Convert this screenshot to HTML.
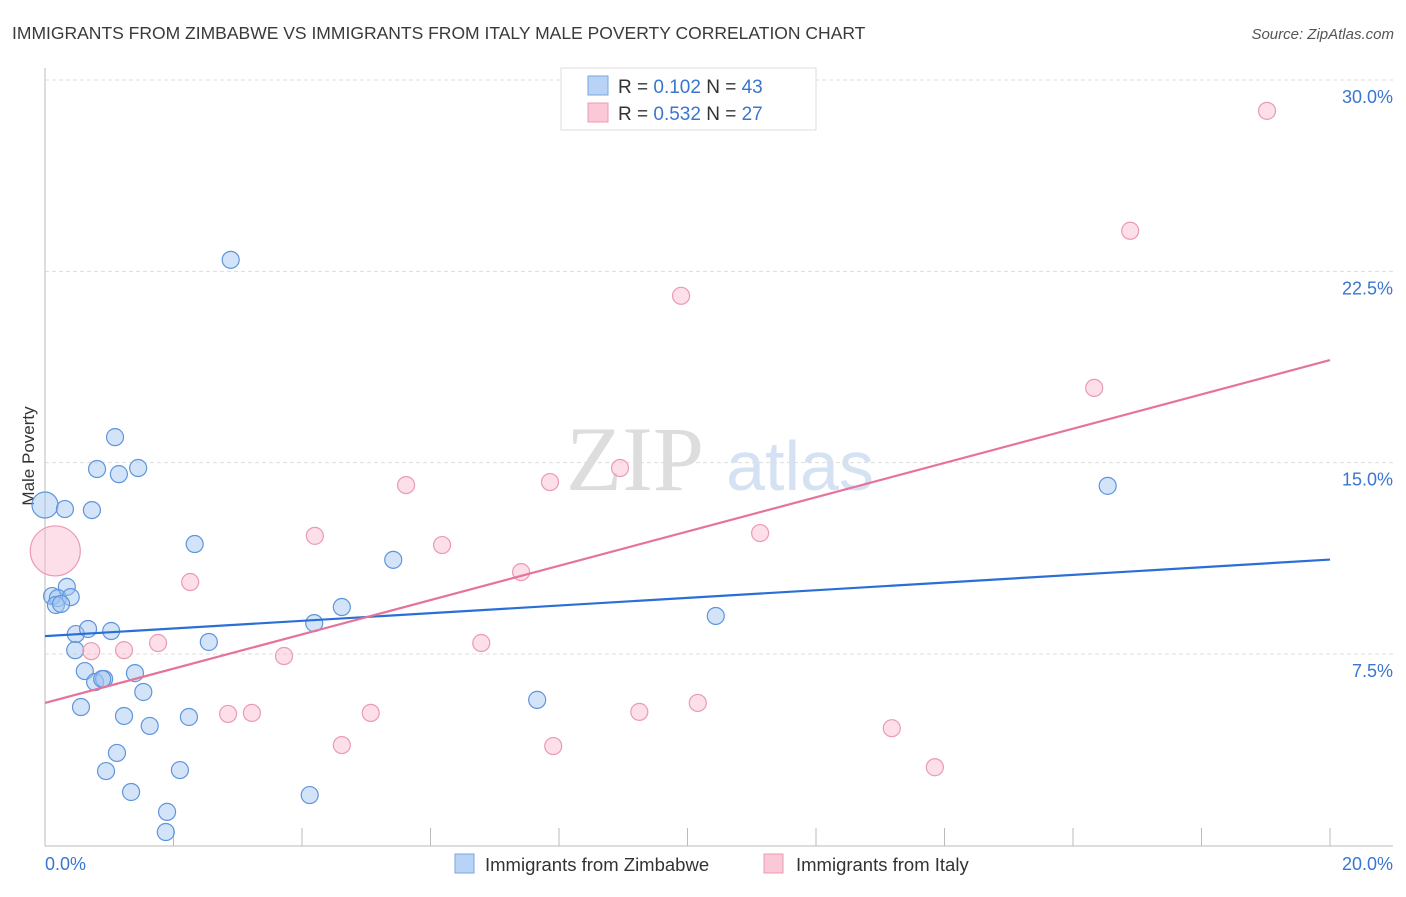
<!DOCTYPE html>
<html><head><meta charset="utf-8"><style>
body{margin:0;background:#fff;font-family:"Liberation Sans",sans-serif;}
svg text{font-family:"Liberation Sans",sans-serif;}
</style></head><body>
<svg id="c" width="1406" height="892" xmlns="http://www.w3.org/2000/svg">
<text x="12" y="39" font-size="17.5" fill="#3a3a3a">IMMIGRANTS FROM ZIMBABWE VS IMMIGRANTS FROM ITALY MALE POVERTY CORRELATION CHART</text>
<text x="1394" y="39" font-size="15" fill="#555" font-style="italic" text-anchor="end">Source: ZipAtlas.com</text>
<text x="34" y="456" font-size="17" fill="#333" text-anchor="middle" transform="rotate(-90 34 456)">Male Poverty</text>
<g>
<text x="635" y="490" font-size="92" fill="#ddd" text-anchor="middle" font-family="Liberation Serif" style="font-family:'Liberation Serif',serif">ZIP</text>
<text x="800" y="490" font-size="70" fill="#d5e2f3" text-anchor="middle">atlas</text>
</g>
<g id="grid"></g>
<g id="axes"></g>
<g id="marks"></g>
<g>
<rect x="561" y="68" width="255" height="62" fill="#fff" stroke="#ddd"/>
<rect x="588" y="76" width="20" height="19" fill="#b8d3f5" stroke="#7aa6e0"/>
<rect x="588" y="103" width="20" height="19" fill="#fac8d6" stroke="#eb9ab2"/>
<text x="618" y="93" font-size="19" fill="#333">R = <tspan fill="#3a76d0">0.102</tspan>   N = <tspan fill="#3a76d0">43</tspan></text>
<text x="618" y="120" font-size="19" fill="#333">R = <tspan fill="#3a76d0">0.532</tspan>   N = <tspan fill="#3a76d0">27</tspan></text>
</g>
<g>
<rect x="455" y="854" width="19" height="19" fill="#b8d3f5" stroke="#7aa6e0"/>
<text x="485" y="871" font-size="18.5" fill="#333">Immigrants from Zimbabwe</text>
<rect x="764" y="854" width="19" height="19" fill="#fac8d6" stroke="#eb9ab2"/>
<text x="796" y="871" font-size="18.5" fill="#333">Immigrants from Italy</text>
</g>
</svg>
<script>
const yTicks=[7.5,15,22.5,30];
const yTickLabels=["7.5%","15.0%","22.5%","30.0%"];
const xTicks=[0,2,4,6,8,10,12,14,16,18,20];
const xEndLabels=["0.0%","20.0%"];
const zimX=[2.89,1.09,0.81,1.15,1.45,0.0,0.31,0.73,2.33,5.42,0.34,0.11,0.20,0.40,0.17,0.25,4.62,4.19,0.48,0.67,1.03,2.55,10.44,16.54,0.47,0.62,1.40,0.78,0.92,0.89,1.53,0.56,1.23,2.24,1.63,7.66,1.12,0.95,2.10,1.34,4.12,1.90,1.88];
const zimY=[22.95,16.0,14.75,14.55,14.79,13.34,13.18,13.14,11.81,11.19,10.13,9.77,9.69,9.73,9.42,9.46,9.34,8.71,8.28,8.48,8.40,7.97,8.99,14.09,7.65,6.83,6.75,6.40,6.52,6.52,6.01,5.42,5.07,5.03,4.68,5.70,3.62,2.91,2.95,2.09,1.97,1.31,0.52];
const itaX=[0.16,19.02,16.89,9.90,16.33,8.95,5.62,7.86,4.20,6.18,11.13,2.26,7.41,1.76,1.23,0.72,6.79,3.72,2.85,3.22,5.07,9.25,10.16,4.62,7.91,13.18,13.85];
const itaY=[11.54,28.79,24.09,21.54,17.93,14.79,14.12,14.24,12.13,11.77,12.24,10.32,10.71,7.93,7.65,7.61,7.93,7.42,5.15,5.19,5.19,5.23,5.58,3.93,3.89,4.59,3.06];
const zimTrend=[8.2,11.2];
const itaTrend=[5.58,19.02];
const X=v=>45+v*64.25, Y=v=>845.3-v*25.51;
const NS="http://www.w3.org/2000/svg";
function mk(tag,attrs,parent){const e=document.createElementNS(NS,tag);for(const k in attrs)e.setAttribute(k,attrs[k]);document.getElementById(parent).appendChild(e);return e;}
yTicks.forEach((t,i)=>{
 const l=mk('line',{x1:45,x2:1393,y1:Y(t),y2:Y(t),stroke:'#ddd','stroke-dasharray':'4,3'},'grid');
 
 
 const tx=mk('text',{x:1393,y:Y(t)+23,'font-size':18,fill:'#3a76d0','text-anchor':'end'},'grid');
 tx.textContent=yTickLabels[i];
 
 
});
const ax=mk('line',{x1:45,x2:45,y1:68,y2:846,stroke:'#bbb'},'axes');


const bx=mk('line',{x1:45,x2:1393,y1:846,y2:846,stroke:'#bbb'},'axes');


xTicks.forEach(t=>{
 const l=mk('line',{x1:X(t),x2:X(t),y1:828,y2:846,stroke:'#bbb'},'axes');
 
 
});
[[0,'start',45],[20,'end',1393]].forEach((d,i)=>{
 const tx=mk('text',{x:d[2],y:870,'font-size':18,fill:'#3a76d0','text-anchor':d[1]},'axes');
 tx.textContent=xEndLabels[i];
 
 
});
function pts(xs,ys,fill,stroke,name,bigIdx,bigR){
 xs.forEach((x,i)=>{
  const c=mk('circle',{cx:X(x),cy:Y(ys[i]),r:i===bigIdx?bigR:8.5,fill:fill,stroke:stroke,'stroke-width':1.2},'marks');
  
  
 });
}
pts(zimX,zimY,'rgba(160,196,240,0.45)','#5f95dc','zimbabwe-point',5,13);
pts(itaX,itaY,'rgba(248,184,204,0.45)','#eb9ab2','italy-point',0,25);
const t1=mk('line',{x1:X(0),x2:X(20),y1:Y(zimTrend[0]),y2:Y(zimTrend[1]),stroke:'#2a6fd6','stroke-width':2.2},'marks');


const t2=mk('line',{x1:X(0),x2:X(20),y1:Y(itaTrend[0]),y2:Y(itaTrend[1]),stroke:'#e5739a','stroke-width':2.2},'marks');


</script>
</body></html>
